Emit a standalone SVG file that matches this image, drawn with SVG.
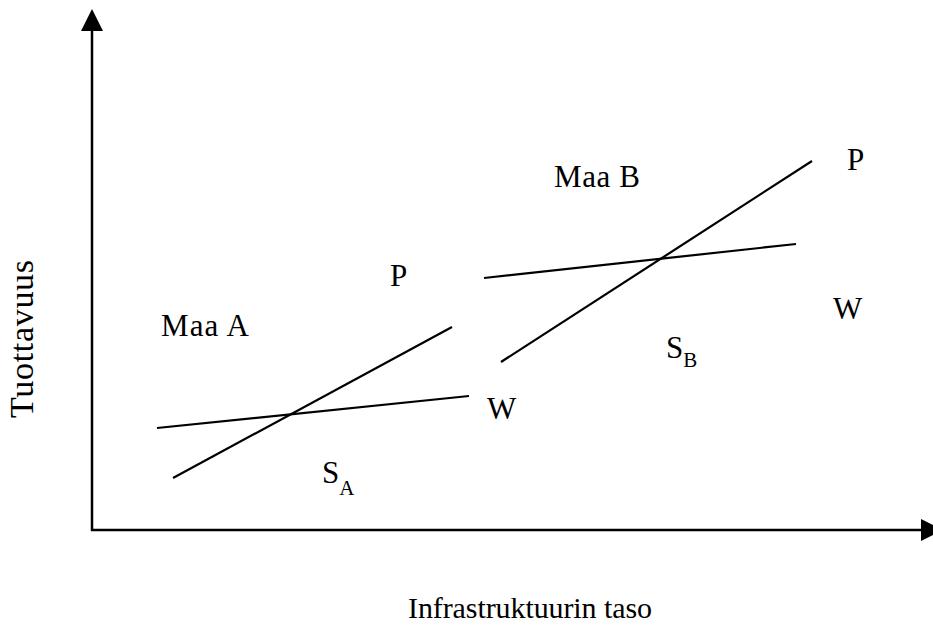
<svg xmlns="http://www.w3.org/2000/svg" width="933" height="628" viewBox="0 0 933 628">
<style>
.t{font-family:"Liberation Serif","Times New Roman",serif;font-size:31px;fill:#000}
.s{font-family:"Liberation Serif","Times New Roman",serif;font-size:21px;fill:#000}
.ax{stroke:#000;stroke-width:2.5;fill:none}
.ln{stroke:#000;stroke-width:2.2;fill:none}
</style>
<rect width="933" height="628" fill="#fff"/>
<g id="axes">
<line class="ax" x1="92" y1="531" x2="92" y2="28"/>
<polygon points="92,9 81,31 103,31" fill="#000"/>
<line class="ax" x1="91" y1="530" x2="924" y2="530"/>
<polygon points="943,530 921,519 921,541" fill="#000"/>
</g>
<g id="connectors">
<line class="ln" x1="173" y1="478" x2="452" y2="327"/>
<line class="ln" x1="157" y1="428" x2="469" y2="396"/>
<line class="ln" x1="501" y1="362" x2="812" y2="161"/>
<line class="ln" x1="484" y1="278" x2="796" y2="244"/>
</g>
<g id="labels">
<text class="t" x="161" y="336" textLength="88">Maa A</text>
<text class="t" x="390" y="286">P</text>
<text class="t" x="487" y="419">W</text>
<text class="t" x="322" y="483">S<tspan class="s" dy="12">A</tspan></text>
<text class="t" x="554" y="187" textLength="86">Maa B</text>
<text class="t" x="847" y="170">P</text>
<text class="t" x="833" y="319">W</text>
<text class="t" x="666" y="358">S<tspan class="s" dy="9">B</tspan></text>
<text class="t" transform="translate(33,418) rotate(-90)" style="font-size:34px" textLength="158">Tuottavuus</text>
<text class="t" x="408" y="618" style="font-size:30px" textLength="244">Infrastruktuurin taso</text>
</g>
</svg>
